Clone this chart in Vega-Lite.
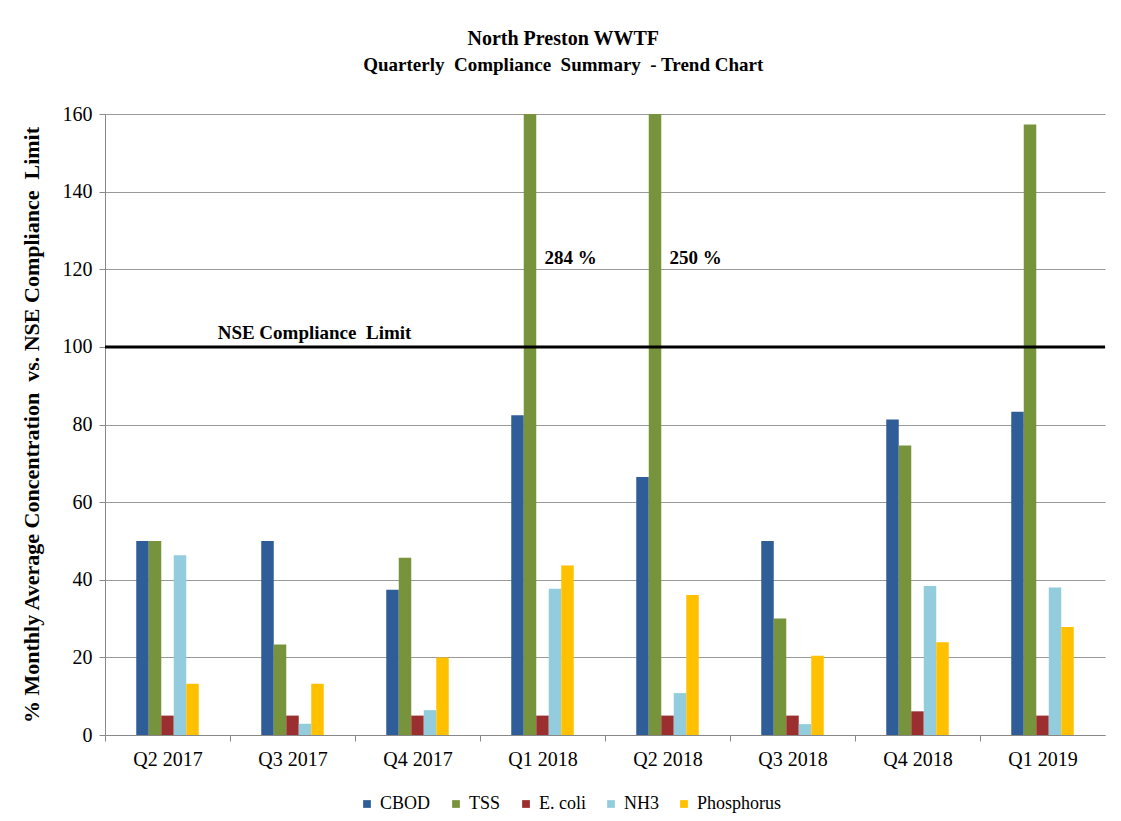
{
  "$schema": "https://vega.github.io/schema/vega-lite/v6.json",
  "width": 1000,
  "height": 621,
  "padding": {"left": 20, "top": 29, "right": 14, "bottom": 5},
  "background": "white",
  "title": {
    "text": "North Preston WWTF",
    "subtitle": "Quarterly\u00a0 Compliance\u00a0 Summary\u00a0 - Trend Chart",
    "font": "Liberation Serif",
    "fontSize": 20,
    "fontWeight": "bold",
    "color": "#000000",
    "subtitleFont": "Liberation Serif",
    "subtitleFontSize": 19,
    "subtitleFontWeight": "bold",
    "subtitleColor": "#000000",
    "subtitlePadding": 7,
    "offset": 29,
    "anchor": "middle",
    "frame": "bounds"
  },
  "datasets": {
    "bars": [
      {"quarter": "Q2 2017", "parameter": "CBOD", "value": 50},
      {"quarter": "Q2 2017", "parameter": "TSS", "value": 50},
      {"quarter": "Q2 2017", "parameter": "E. coli", "value": 5},
      {"quarter": "Q2 2017", "parameter": "NH3", "value": 46.3},
      {"quarter": "Q2 2017", "parameter": "Phosphorus", "value": 13.2},
      {"quarter": "Q3 2017", "parameter": "CBOD", "value": 50},
      {"quarter": "Q3 2017", "parameter": "TSS", "value": 23.3},
      {"quarter": "Q3 2017", "parameter": "E. coli", "value": 5},
      {"quarter": "Q3 2017", "parameter": "NH3", "value": 2.9},
      {"quarter": "Q3 2017", "parameter": "Phosphorus", "value": 13.2},
      {"quarter": "Q4 2017", "parameter": "CBOD", "value": 37.4},
      {"quarter": "Q4 2017", "parameter": "TSS", "value": 45.7},
      {"quarter": "Q4 2017", "parameter": "E. coli", "value": 5},
      {"quarter": "Q4 2017", "parameter": "NH3", "value": 6.4},
      {"quarter": "Q4 2017", "parameter": "Phosphorus", "value": 20},
      {"quarter": "Q1 2018", "parameter": "CBOD", "value": 82.4},
      {"quarter": "Q1 2018", "parameter": "TSS", "value": 284},
      {"quarter": "Q1 2018", "parameter": "E. coli", "value": 5},
      {"quarter": "Q1 2018", "parameter": "NH3", "value": 37.7},
      {"quarter": "Q1 2018", "parameter": "Phosphorus", "value": 43.7},
      {"quarter": "Q2 2018", "parameter": "CBOD", "value": 66.5},
      {"quarter": "Q2 2018", "parameter": "TSS", "value": 250},
      {"quarter": "Q2 2018", "parameter": "E. coli", "value": 5},
      {"quarter": "Q2 2018", "parameter": "NH3", "value": 10.8},
      {"quarter": "Q2 2018", "parameter": "Phosphorus", "value": 36.1},
      {"quarter": "Q3 2018", "parameter": "CBOD", "value": 50},
      {"quarter": "Q3 2018", "parameter": "TSS", "value": 30},
      {"quarter": "Q3 2018", "parameter": "E. coli", "value": 5},
      {"quarter": "Q3 2018", "parameter": "NH3", "value": 2.8},
      {"quarter": "Q3 2018", "parameter": "Phosphorus", "value": 20.4},
      {"quarter": "Q4 2018", "parameter": "CBOD", "value": 81.3},
      {"quarter": "Q4 2018", "parameter": "TSS", "value": 74.6},
      {"quarter": "Q4 2018", "parameter": "E. coli", "value": 6.1},
      {"quarter": "Q4 2018", "parameter": "NH3", "value": 38.4},
      {"quarter": "Q4 2018", "parameter": "Phosphorus", "value": 23.9},
      {"quarter": "Q1 2019", "parameter": "CBOD", "value": 83.3},
      {"quarter": "Q1 2019", "parameter": "TSS", "value": 157.3},
      {"quarter": "Q1 2019", "parameter": "E. coli", "value": 5},
      {"quarter": "Q1 2019", "parameter": "NH3", "value": 38},
      {"quarter": "Q1 2019", "parameter": "Phosphorus", "value": 27.8}
    ],
    "notes": [
      {"quarter": "Q1 2018", "label": "284 %", "pos": 122.8},
      {"quarter": "Q2 2018", "label": "250 %", "pos": 122.8}
    ],
    "limit": [
      {"quarter": "Q3 2017", "label": "NSE Compliance\u00a0 Limit", "limit": 100}
    ]
  },
  "layer": [
    {
      "data": {"name": "bars"},
      "mark": {"type": "bar", "clip": true},
      "encoding": {
        "x": {
          "field": "quarter",
          "type": "nominal",
          "sort": ["Q2 2017", "Q3 2017", "Q4 2017", "Q1 2018", "Q2 2018", "Q3 2018", "Q4 2018", "Q1 2019"],
          "scale": {"paddingInner": 0.5, "paddingOuter": 0.25},
          "axis": {
            "title": null,
            "labelAngle": 0,
            "tickOffset": -62.5,
            "labelOffset": 62.5,
            "labelFont": "Liberation Serif",
            "labelFontSize": 20,
            "labelColor": "#000000",
            "labelPadding": 8,
            "domainColor": "#888888",
            "tickColor": "#888888",
            "tickSize": 6,
            "grid": false
          }
        },
        "xOffset": {
          "field": "parameter",
          "type": "nominal",
          "sort": ["CBOD", "TSS", "E. coli", "NH3", "Phosphorus"],
          "scale": {"paddingInner": 0, "paddingOuter": 0}
        },
        "y": {
          "field": "value",
          "type": "quantitative",
          "scale": {"domain": [0, 160], "nice": false},
          "axis": {
            "title": "% Monthly Average Concentration\u00a0 vs. NSE Compliance\u00a0 Limit",
            "titleFont": "Liberation Serif",
            "titleFontSize": 22,
            "titleFontWeight": "bold",
            "titleColor": "#000000",
            "titlePadding": 19,
            "values": [0, 20, 40, 60, 80, 100, 120, 140, 160],
            "labelFont": "Liberation Serif",
            "labelFontSize": 20,
            "labelColor": "#000000",
            "labelPadding": 7,
            "domainColor": "#888888",
            "tickColor": "#888888",
            "tickSize": 6,
            "gridColor": "#999999",
            "gridWidth": 1
          }
        },
        "color": {
          "field": "parameter",
          "type": "nominal",
          "sort": ["CBOD", "TSS", "E. coli", "NH3", "Phosphorus"],
          "scale": {
            "domain": ["CBOD", "TSS", "E. coli", "NH3", "Phosphorus"],
            "range": ["#2F5D98", "#77933C", "#9B2F2F", "#93CDDD", "#FFC000"]
          },
          "legend": {
            "title": null,
            "orient": "none",
            "direction": "horizontal",
            "legendX": 253,
            "legendY": 681,
            "symbolType": "square",
            "symbolSize": 60,
            "symbolStrokeWidth": 0,
            "labelFont": "Liberation Serif",
            "labelFontSize": 18,
            "labelColor": "#000000",
            "columnPadding": 16,
            "labelOffset": 4
          }
        }
      }
    },
    {
      "data": {"name": "limit"},
      "mark": {"type": "rule", "color": "#000000", "strokeWidth": 3},
      "encoding": {
        "y": {"field": "limit", "type": "quantitative"}
      }
    },
    {
      "data": {"name": "limit"},
      "mark": {
        "type": "text",
        "font": "Liberation Serif",
        "fontSize": 19,
        "fontWeight": "bold",
        "color": "#000000",
        "align": "center",
        "baseline": "alphabetic",
        "dx": 22,
        "dy": -8
      },
      "encoding": {
        "x": {"field": "quarter", "type": "nominal", "sort": ["Q2 2017", "Q3 2017", "Q4 2017", "Q1 2018", "Q2 2018", "Q3 2018", "Q4 2018", "Q1 2019"]},
        "y": {"field": "limit", "type": "quantitative"},
        "text": {"field": "label"}
      }
    },
    {
      "data": {"name": "notes"},
      "mark": {
        "type": "text",
        "font": "Liberation Serif",
        "fontSize": 19,
        "fontWeight": "bold",
        "color": "#000000",
        "align": "left",
        "baseline": "middle",
        "dx": 2
      },
      "encoding": {
        "x": {"field": "quarter", "type": "nominal", "sort": ["Q2 2017", "Q3 2017", "Q4 2017", "Q1 2018", "Q2 2018", "Q3 2018", "Q4 2018", "Q1 2019"]},
        "y": {"field": "pos", "type": "quantitative"},
        "text": {"field": "label"}
      }
    }
  ],
  "config": {
    "view": {"stroke": null},
    "font": "Liberation Serif"
  }
}
